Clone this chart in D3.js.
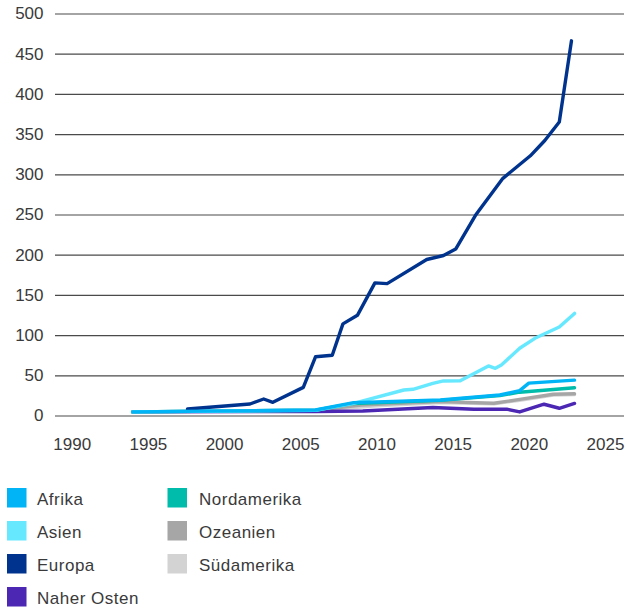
<!DOCTYPE html>
<html>
<head>
<meta charset="utf-8">
<script src="https://cdn.jsdelivr.net/npm/d3@7"></script>
<style>
  body { margin: 0; background: #fff; }
  svg text { font-family: "Liberation Sans", Arial, sans-serif; fill: #3a3a3a; }
</style>
</head>
<body>
<svg id="chart" width="627" height="609"></svg>
<script>
// Regions shown in the legend (two columns)
const regions = ["Afrika", "Asien", "Europa", "Naher Osten", "Nordamerika", "Ozeanien", "Südamerika"];
const regionColors = ["#00b4f5", "#66e8ff", "#00338d", "#4b27b4", "#00bcab", "#a6a6a6", "#d3d3d3"];

// axis ticks
const xTicks = [1990, 1995, 2000, 2005, 2010, 2015, 2020, 2025];
const yTicks = [0, 50, 100, 150, 200, 250, 300, 350, 400, 450, 500];

// [year, value]
const afrika = [[1994, 4.5], [2006, 6.8], [2008.5, 16], [2014.2, 19.3], [2018.1, 25.5], [2019.4, 31], [2020, 40.3], [2023, 44]];
const asien = [[1994, 4.5], [2006, 6.5], [2008.5, 15], [2011.8, 31.7], [2012.4, 32.6], [2013.7, 40], [2014.4, 43], [2015.5, 43.3],
  [2017.35, 61.6], [2017.8, 58.7], [2018.2, 62.8], [2019.4, 83.6], [2020.4, 96], [2022, 110], [2023, 127]];
const europa = [[1997.6, 8], [2001.7, 14.3], [2002.6, 20.5], [2003.2, 16.4], [2005.2, 35], [2006, 73], [2007.1, 75], [2007.8, 114],
  [2008.75, 124.6], [2009.9, 165], [2010.7, 164], [2013.3, 194], [2014.4, 199], [2015.2, 207], [2016.5, 249], [2018.3, 295],
  [2020.1, 323], [2021.05, 342], [2022, 365], [2022.8, 466]];
const naherOsten = [[1994, 4.5], [2006, 5], [2009.1, 5.6], [2013.7, 10], [2016.4, 7.7], [2018.6, 7.7], [2019.4, 4.4],
  [2021, 14], [2022, 9], [2023, 15]];
const nordamerika = [[1994, 4.5], [2006, 6.5], [2008.5, 15], [2014.2, 18.8], [2018.1, 24.8], [2019.4, 29], [2023, 34.6]];
const ozeanien = [[1994, 4.5], [2006, 6.5], [2009, 13], [2014.2, 17.2], [2017.7, 15.2], [2019.4, 20], [2021.6, 26.4], [2023, 27]];
const suedamerika = [[1994, 4.5], [2006, 6], [2010, 12], [2014.2, 16.2], [2017.7, 14.5], [2019.4, 19], [2021.6, 25.5], [2023, 26]];

const seriesByRegion = {
  "Afrika": afrika, "Asien": asien, "Europa": europa, "Naher Osten": naherOsten,
  "Nordamerika": nordamerika, "Ozeanien": ozeanien, "Südamerika": suedamerika
};
// drawing order (Afrika on top)
const drawOrder = ["Südamerika", "Ozeanien", "Naher Osten", "Nordamerika", "Asien", "Europa", "Afrika"];

const svg = d3.select("#chart");

const x = d3.scaleLinear().domain([1990, 2025]).range([71.7, 605]);
const y = d3.scaleLinear().domain([0, 500]).range([415.5, 13.5]);
const color = d3.scaleOrdinal().domain(regions).range(regionColors);

// y axis + gridlines
const yAxis = svg.append("g")
  .attr("transform", "translate(624,0)")
  .call(d3.axisLeft(y).tickValues(yTicks).tickSize(569).tickPadding(11.5));
yAxis.select(".domain").remove();
yAxis.selectAll("line").attr("stroke", "#4a4a4a").attr("stroke-width", 1.2);
yAxis.selectAll("text").attr("font-size", 17).attr("fill", "#3a3a3a");

// x axis labels only
const xAxis = svg.append("g")
  .attr("transform", "translate(0,415.5)")
  .call(d3.axisBottom(x).tickValues(xTicks).tickFormat(d3.format("d")).tickSize(0).tickPadding(22.5));
xAxis.select(".domain").remove();
xAxis.selectAll("text").attr("font-size", 17).attr("fill", "#3a3a3a");

const line = d3.line().x(d => x(d[0])).y(d => y(d[1]));

svg.append("g").selectAll("path")
  .data(drawOrder)
  .join("path")
  .attr("d", r => line(seriesByRegion[r]))
  .attr("fill", "none")
  .attr("stroke", r => color(r))
  .attr("stroke-width", 3.4)
  .attr("stroke-linejoin", "round")
  .attr("stroke-linecap", "round");

// legend
const legend = svg.append("g");
const items = legend.selectAll("g")
  .data(regions)
  .join("g")
  .attr("transform", (d, i) => {
    const col = i < 4 ? 0 : 1;
    const row = i < 4 ? i : i - 4;
    return `translate(${col === 0 ? 7 : 167.5},${498 + row * 33})`;
  });
items.append("rect")
  .attr("x", 0).attr("y", -10)
  .attr("width", 19.5).attr("height", 19.5)
  .attr("fill", d => color(d));
items.append("text")
  .attr("x", (d, i) => i < 4 ? 30 : 31.5)
  .attr("y", 6.5)
  .attr("font-size", 17)
  .attr("letter-spacing", 0.5)
  .text(d => d);
</script>
</body>
</html>
